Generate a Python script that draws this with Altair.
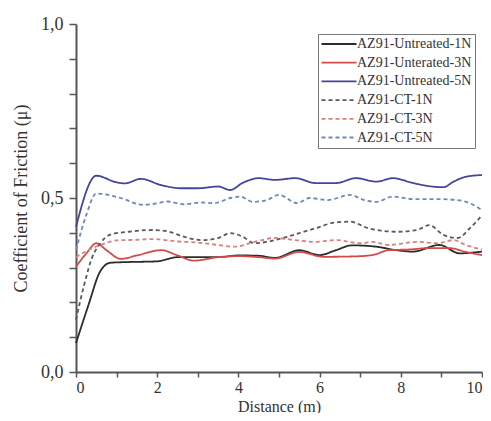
import altair as alt
import pandas as pd

series_names = [
    "AZ91-Untreated-1N",
    "AZ91-Unterated-3N",
    "AZ91-Untreated-5N",
    "AZ91-CT-1N",
    "AZ91-CT-3N",
    "AZ91-CT-5N",
]

u1_x = [0, 0.3, 0.6, 0.85, 1.3, 2.0, 2.5, 3.0, 3.5, 4.0, 4.5, 4.9, 5.5, 6.0, 6.4, 6.8, 7.4, 7.9, 8.3, 8.95, 9.45, 9.75, 10]
u1_y = [0.083, 0.19, 0.29, 0.314, 0.316, 0.318, 0.33, 0.33, 0.33, 0.335, 0.334, 0.328, 0.35, 0.336, 0.35, 0.364, 0.36, 0.35, 0.346, 0.365, 0.341, 0.343, 0.346]

u3_x = [0, 0.25, 0.5, 0.75, 1.1, 1.5, 2.1, 2.5, 2.9, 3.5, 4.0, 4.5, 4.9, 5.5, 6.1, 6.8, 7.3, 7.7, 8.2, 8.7, 9.2, 9.6, 10]
u3_y = [0.303, 0.34, 0.37, 0.35, 0.325, 0.335, 0.35, 0.335, 0.32, 0.33, 0.333, 0.33, 0.326, 0.345, 0.331, 0.332, 0.336, 0.35, 0.352, 0.356, 0.356, 0.345, 0.336]

u5_x = [0, 0.5, 1.0, 1.2, 1.6, 2.1, 2.6, 3.0, 3.5, 3.8, 4.1, 4.5, 4.9, 5.4, 5.9, 6.4, 6.9, 7.4, 7.8, 8.3, 8.7, 9.05, 9.3, 9.6, 10]
u5_y = [0.417, 0.564, 0.545, 0.542, 0.555, 0.537, 0.528, 0.528, 0.533, 0.523, 0.543, 0.557, 0.552, 0.557, 0.543, 0.543, 0.557, 0.547, 0.557, 0.543, 0.534, 0.531, 0.547, 0.561, 0.566]

c1_x = [0, 0.2, 0.4, 0.6, 0.85, 1.3, 1.9, 2.3, 2.65, 3.1, 3.5, 3.8, 4.1, 4.4, 4.7, 5.1, 5.5, 5.9, 6.4, 6.75, 7.2, 7.9, 8.4, 8.7, 9.05, 9.4, 9.7, 10]
c1_y = [0.15, 0.25, 0.33, 0.37, 0.395, 0.403, 0.408, 0.403, 0.389, 0.379, 0.385, 0.399, 0.389, 0.37, 0.374, 0.385, 0.399, 0.413, 0.43, 0.432, 0.413, 0.403, 0.408, 0.422, 0.394, 0.385, 0.413, 0.45]

c3_x = [0, 0.3, 0.6, 1.0, 1.5, 1.9, 2.5, 3.0, 3.5, 3.9, 4.4, 4.9, 5.4, 5.9, 6.4, 7.0, 7.3, 7.7, 8.4, 8.9, 9.3, 9.6, 10]
c3_y = [0.33, 0.35, 0.365, 0.378, 0.38, 0.382, 0.375, 0.372, 0.365, 0.36, 0.374, 0.385, 0.379, 0.374, 0.379, 0.37, 0.374, 0.365, 0.374, 0.37, 0.379, 0.365, 0.352]

c5_x = [0, 0.25, 0.5, 1.1, 1.65, 2.0, 2.25, 2.65, 3.1, 3.4, 3.8, 4.05, 4.35, 4.7, 5.0, 5.45, 5.75, 6.2, 6.75, 7.1, 7.4, 7.8, 8.3, 8.9, 9.4, 9.7, 10]
c5_y = [0.35, 0.45, 0.513, 0.5, 0.48, 0.485, 0.49, 0.482, 0.487, 0.485, 0.5, 0.504, 0.489, 0.494, 0.509, 0.485, 0.5, 0.494, 0.509, 0.494, 0.489, 0.504, 0.497, 0.497, 0.494, 0.485, 0.465]

colors = ["#2b2b2b", "#d24b4b", "#45459a", "#5a5a5a", "#d98080", "#7088b8"]
dashes = [[1, 0], [1, 0], [1, 0], [4, 3], [4, 3], [4, 3]]

x_ticks = list(range(0, 11))
y_ticks = [0, 0.1, 0.2, 0.3, 0.4, 0.5, 0.6, 0.7, 0.8, 0.9, 1.0]

rows = []
for name, xs, ys in zip(series_names,
                        [u1_x, u3_x, u5_x, c1_x, c3_x, c5_x],
                        [u1_y, u3_y, u5_y, c1_y, c3_y, c5_y]):
    for xv, yv in zip(xs, ys):
        rows.append({"series": name, "x": xv, "y": yv})
df = pd.DataFrame(rows)

FONT = "Liberation Serif"

chart = alt.Chart(df).mark_line(strokeWidth=1.8, interpolate="monotone").encode(
    x=alt.X("x:Q", title="Distance (m)",
            scale=alt.Scale(domain=[0, 10], nice=False),
            axis=alt.Axis(values=x_ticks,
                          labelExpr="datum.value % 2 == 0 ? datum.label : ''",
                          grid=False, tickSize=5, labelPadding=2,
                          labelFontSize=16, titleFontSize=16,
                          titlePadding=3)),
    y=alt.Y("y:Q", title="Coefficient of Friction (\u03bc)",
            scale=alt.Scale(domain=[0, 1], nice=False),
            axis=alt.Axis(values=y_ticks,
                          labelExpr="abs((datum.value * 10) % 5) < 0.01 ? replace(format(datum.value, '.1f'), '.', ',') : ''",
                          grid=False, tickSize=7, labelPadding=6,
                          labelFontSize=18, titleFontSize=18,
                          titlePadding=10)),
    color=alt.Color("series:N", title=None,
                    scale=alt.Scale(domain=series_names, range=colors),
                    sort=series_names),
    strokeDash=alt.StrokeDash("series:N", title=None,
                              scale=alt.Scale(domain=series_names, range=dashes),
                              sort=series_names),
    detail="series:N",
    order="x:Q",
).properties(
    width=406,
    height=348,
    padding={"left": 68, "top": 16, "right": 1, "bottom": 41},
    autosize=alt.AutoSizeParams(type="none"),
).configure_view(
    stroke=None
).configure_axis(
    domainColor="#555555",
    domainWidth=2,
    tickColor="#555555",
    tickWidth=1.5,
    labelFont=FONT,
    titleFont=FONT,
    labelColor="#333333",
    titleColor="#333333",
    titleFontWeight="normal",
).configure_legend(
    orient="none",
    legendX=242,
    legendY=10,
    strokeColor="#777777",
    fillColor="white",
    padding=3,
    labelFont=FONT,
    labelFontSize=14,
    labelColor="#333333",
    symbolType="M-3.5,0H3.5",
    symbolSize=100,
    symbolStrokeWidth=1.8,
    symbolFillColor="transparent",
    symbolOffset=11,
    labelOffset=11,
    rowPadding=4.7,
    labelLimit=200,
)

chart.save("out.html", embed_options={"renderer": "svg", "actions": False})
